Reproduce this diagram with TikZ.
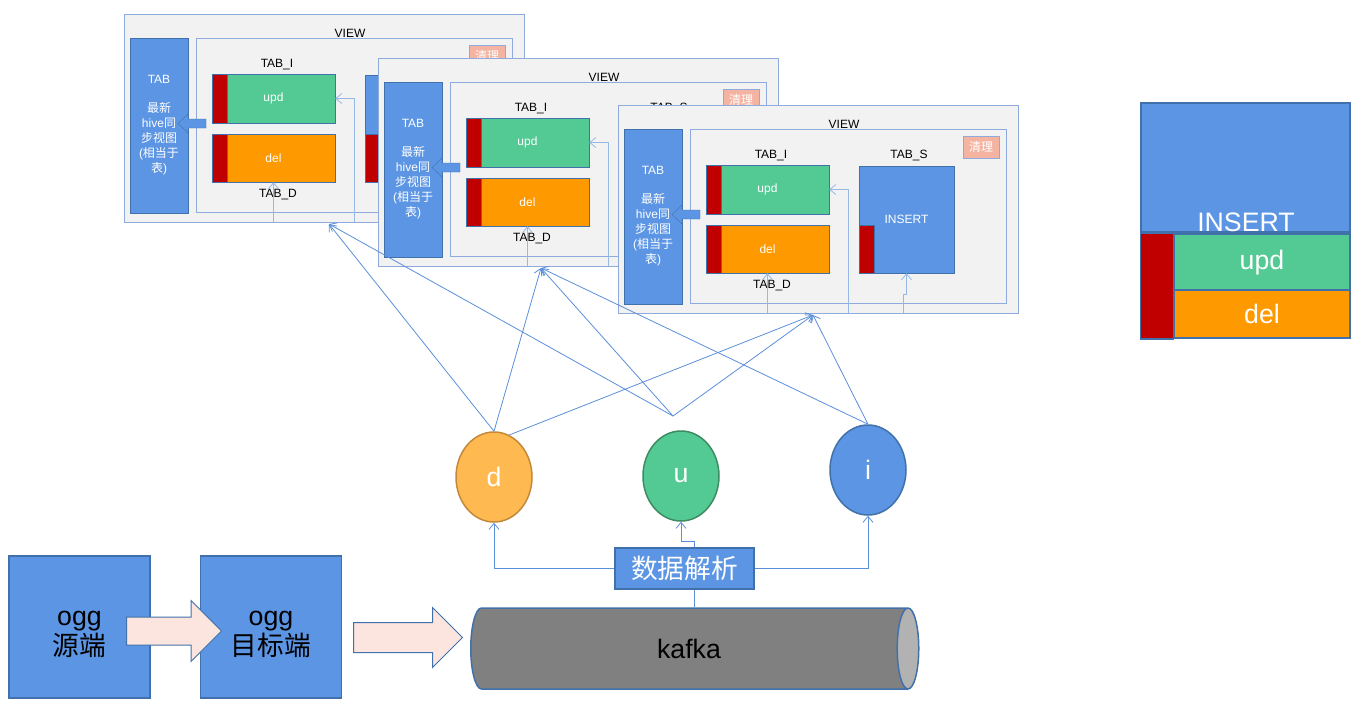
\documentclass[tikz,border=0pt]{standalone}
\usepackage{fontspec}
\setmainfont{Liberation Sans}
\newfontfamily\cjk{Noto Sans CJK SC}
\usetikzlibrary{positioning,shapes.geometric,shapes.arrows,arrows.meta}

\definecolor{tabblue}{RGB}{91,149,227}
\definecolor{edgeblue}{RGB}{65,113,170}
\definecolor{wireblue}{RGB}{91,143,217}
\definecolor{paleblue}{RGB}{150,185,230}
\definecolor{frameblue}{RGB}{143,170,220}
\definecolor{updgreen}{RGB}{83,201,148}
\definecolor{delorange}{RGB}{255,153,0}
\definecolor{keyred}{RGB}{192,0,0}
\definecolor{panelgray}{RGB}{242,242,242}
\definecolor{cleanpink}{RGB}{245,180,162}
\definecolor{arrowpink}{RGB}{252,229,223}
\definecolor{dorange}{RGB}{255,185,81}
\definecolor{dedge}{RGB}{196,136,58}
\definecolor{uedge}{RGB}{60,140,98}
\definecolor{kafkagray}{RGB}{128,128,128}
\definecolor{kafkaend}{RGB}{178,178,178}

\begin{document}
\begin{tikzpicture}[x=1pt,y=-1pt,
    >={Straight Barb[length=6pt,width=10pt]},
    panelframe/.style={draw=frameblue,fill=panelgray,line width=1pt},
    smalltext/.style={font=\fontsize{12}{14}\selectfont},
    bigtext/.style={font=\fontsize{26.7}{30}\selectfont},
    tabbox/.style={draw=edgeblue,fill=tabblue,text=white,align=center,minimum width=58pt,minimum height=175pt,inner sep=0pt,font=\fontsize{12}{15}\selectfont},
    cellbox/.style={draw=edgeblue,minimum width=123pt,minimum height=49pt,inner sep=0pt,text=white,smalltext},
    cleanbox/.style={draw=frameblue,fill=cleanpink,text=white,minimum width=36pt,minimum height=22pt,inner sep=0pt,smalltext},
    wirearrow/.style={->,wireblue,line width=0.8pt},
    feedarrow/.style={->,paleblue,line width=0.8pt},
    oggbox/.style={draw=edgeblue,fill=tabblue,line width=1.5pt,minimum width=141pt,minimum height=142pt,inner sep=0pt},
    oggtext/.style={align=center,bigtext,yshift=-7pt},
    fatarrow/.style={single arrow,anchor=tail,draw=edgeblue,fill=arrowpink,line width=1pt,single arrow head extend=16.5pt,inner xsep=0pt,inner ysep=13.5pt},
    opnode/.style={ellipse,minimum width=76pt,minimum height=90pt,inner sep=0pt,line width=1.5pt,text=white,bigtext},
    keybox/.style={draw=edgeblue,line width=1.5pt,inner sep=0pt,text=white,bigtext}
]
\useasboundingbox (0,0) rectangle (1366,707);

% three stacked VIEW panels
\foreach \n/\ox/\oy/\tx in {1/124/14/205,2/378/58/163,3/618/105/195}{
  \begin{scope}[shift={(\ox,\oy)}]
    \draw[panelframe] (0,0) rectangle (400,208);
    \node[tabbox] (tab\n) at (35,111.5) {TAB\\[14pt]{\cjk 最新}\\hive{\cjk 同}\\{\cjk 步视图}\\({\cjk 相当于}\\{\cjk 表})};
    \draw[panelframe] (72,24) rectangle (388,198);
    \node[smalltext] (view\n) at (226,19) {VIEW};
    \node[cleanbox] (clean\n) at (363,42) {\cjk 清理};
    \node[smalltext] at (153,51) {TAB\_I};
    \node[cellbox,fill=updgreen] (upd\n) at (149.5,84.5) {upd};
    \draw[draw=edgeblue,fill=keyred] (upd\n.north west) rectangle ++(15,49);
    \node[cellbox,fill=delorange,minimum height=48pt] (del\n) at (149.5,144) {del};
    \draw[draw=edgeblue,fill=keyred] (del\n.north west) rectangle ++(15,48);
    \node[smalltext] at (154,181) {TAB\_D};
    \node[smalltext] at (291,51) {TAB\_S};
    % INSERT text only shows on the front panel
    \node[cellbox,fill=tabblue,minimum width=95pt,minimum height=107pt] (ins\n) at (288.5,114.5) {\ifnum\n=3 INSERT\fi};
    \draw[draw=edgeblue,fill=keyred] (241,120) rectangle (256,168);
    \draw[draw=edgeblue,fill=tabblue] (82,105) -- (64,105) -- (64,100) -- (54,109.5) -- (64,119) -- (64,114) -- (82,114) -- cycle;
    \draw[feedarrow] (230,208) |- (upd\n.east);
    \draw[feedarrow] (149.5,208) -- (del\n.south);
    \draw[feedarrow] (285,208) |- (288.5,189) -- (ins\n.south);
    \coordinate (in\n) at (\tx,210);
  \end{scope}
}

% d u i
\node[opnode,draw=dedge,fill=dorange] (opd) at (494,477) {d};
\node[opnode,draw=uedge,fill=updgreen] (opu) at (681,476) {u};
\node[opnode,draw=edgeblue,fill=tabblue] (opi) at (868,470) {i};
\coordinate (uend) at (673,416);

\foreach \s/\t in {opd.north/in1,opd.north/in2,opd.70/in3,uend/in1,uend/in2,uend/in3,opi.north/in2,opi.north/in3}
  \draw[wirearrow] (\s) -- (\t);

\node[draw=edgeblue,fill=tabblue,line width=1.5pt,minimum width=139pt,minimum height=41pt,inner sep=0pt,text=white,bigtext] (parse) at (684.5,568.5) {\cjk 数据解析};
\draw[wirearrow] (parse.west) -| (opd.south);
\draw[wirearrow] ([xshift=10pt]parse.north) -- ++(0,-6) -| (opu.south);
\draw[wirearrow] (parse.east) -| (opi.south);

\node[cylinder,draw=edgeblue,line width=1.5pt,cylinder uses custom fill,cylinder body fill=kafkagray,cylinder end fill=kafkaend,minimum height=448pt,minimum width=81pt,aspect=1.1,inner sep=0pt,bigtext] (kafka) at (689,648.5) {kafka};
\draw[wireblue,line width=0.8pt] ([xshift=5pt]kafka.north |- parse.south) -- ([xshift=5pt]kafka.north);

% ogg
\node[oggbox,label={[oggtext]center:ogg\\{\cjk 源端}}] (src) at (79.5,627) {};
\node[oggbox,right=49pt of src,label={[oggtext]center:ogg\\{\cjk 目标端}}] (dst) {};
\node[fatarrow,minimum height=95pt] (hop1) at (126,631) {};
\node[fatarrow,minimum height=109pt,inner ysep=14.5pt,single arrow head extend=15pt] (hop2) at (353,637.5) {};

% legend
\node[keybox,fill=tabblue,minimum width=209pt,minimum height=129pt] (keyins) at (1245.5,167.5) {};
\node[text=white,bigtext] at (1246,222) {INSERT};
\node[keybox,fill=updgreen,minimum width=176pt,minimum height=58pt] (keyupd) at (1262,263) {upd};
\node[keybox,fill=delorange,minimum width=176pt,minimum height=48pt] (keydel) at (1262,314) {del};
\draw[draw=edgeblue,line width=1.5pt,fill=keyred] (keyupd.north west) rectangle (keyins.west |- keydel.south);
\end{tikzpicture}
\end{document}
